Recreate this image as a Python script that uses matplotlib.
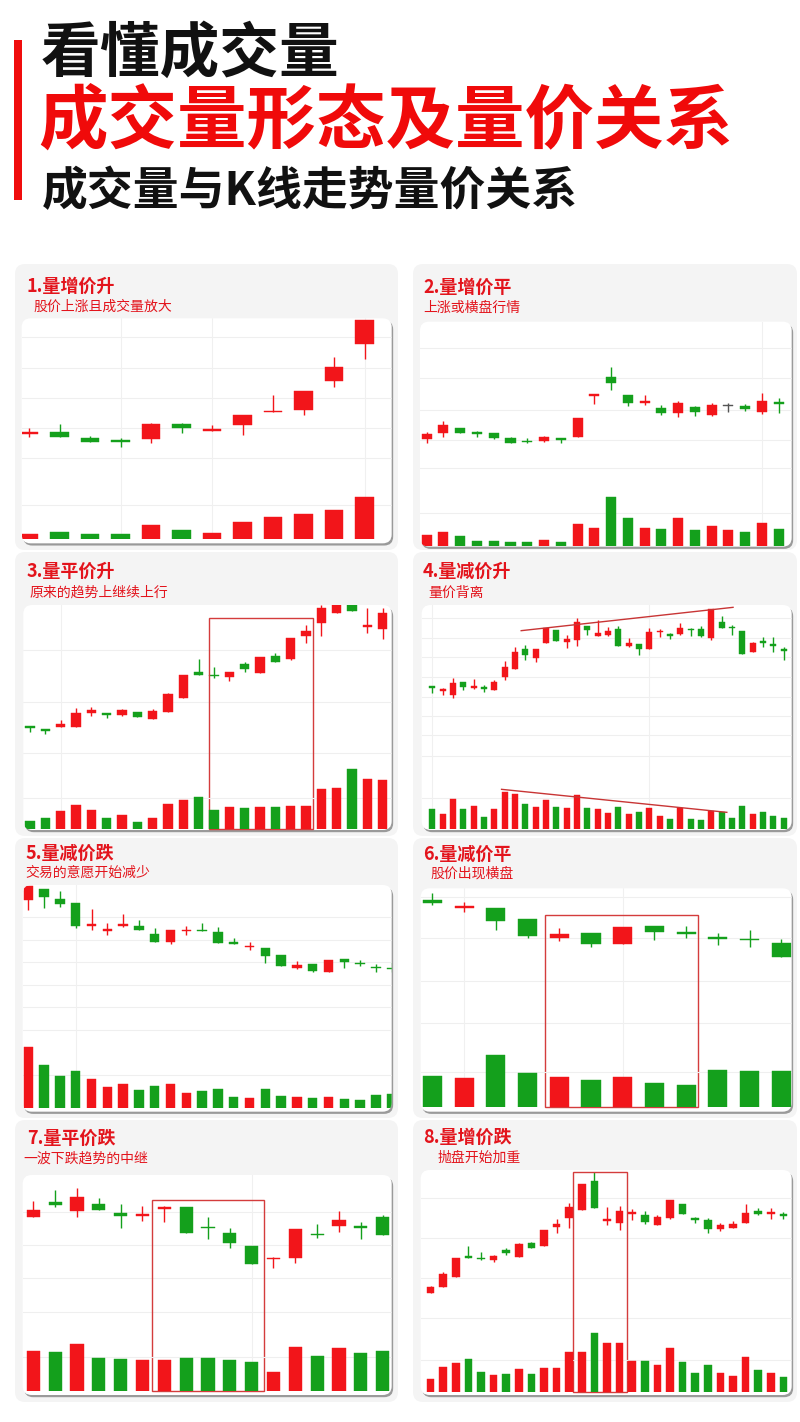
import matplotlib
matplotlib.use("Agg")
import matplotlib.pyplot as plt
from matplotlib.patches import FancyBboxPatch, Rectangle

plt.rcParams["font.family"] = ["Noto Sans CJK SC", "DejaVu Sans"]

# ---------------- texts ----------------
header_line1 = "看懂成交量"
header_line2 = "成交量形态及量价关系"
header_line3 = "成交量与K线走势量价关系"

panel_titles = ["1.量增价升", "2.量增价平", "3.量平价升", "4.量减价升",
                "5.量减价跌", "6.量减价平", "7.量平价跌", "8.量增价跌"]
panel_subtitles = ["股价上涨且成交量放大", "上涨或横盘行情", "原来的趋势上继续上行", "量价背离",
                   "交易的意愿开始减少", "股价出现横盘", "一波下跌趋势的中继", "抛盘开始加重"]

# ---------------- data (r = up/red, g = down/green, k = neutral) ----------------
p1_color = "rgggrgrrrrrr"
p1_open = [478, 483, 467, 459, 464, 509, 487, 506, 543, 550, 638, 747]
p1_close = [484, 470, 454, 453, 508, 495, 494, 535, 548, 608, 679, 821]
p1_high = [495, 508, 473, 465, 510, 512, 505, 535, 595, 608, 709, 821]
p1_low = [468, 470, 454, 438, 452, 480, 487, 475, 543, 535, 620, 702]
p1_volume = [16, 23, 16, 16, 43, 28, 18, 51, 66, 76, 88, 128]
p1_vol_color = "rgggrgrrrrrr"

p2_color = "rrgggggrgrrggrgrgrkgrg"
p2_open = [462, 480, 495, 483, 480, 465, 457, 457, 466, 468, 593, 650, 595, 572, 556, 542, 558, 535, 562, 563, 543, 573]
p2_close = [478, 505, 482, 478, 465, 452, 453, 469, 459, 525, 598, 630, 572, 575, 542, 572, 545, 565, 563, 553, 578, 568]
p2_high = [485, 518, 495, 488, 480, 470, 465, 473, 466, 525, 598, 678, 595, 595, 565, 578, 562, 572, 572, 568, 602, 585]
p2_low = [452, 470, 480, 470, 463, 450, 450, 455, 450, 468, 568, 610, 562, 565, 535, 530, 532, 532, 545, 548, 538, 540]
p2_volume = [32, 42, 30, 14, 14, 12, 10, 17, 12, 64, 52, 145, 84, 52, 49, 82, 47, 60, 46, 40, 67, 50]
p2_vol_color = "rrgggggrgrrggrgrgrrgrg"

p3_color = "ggrrrgrgrrrggrgrgrrrrgrr"
p3_open = [471, 463, 470, 468, 510, 512, 505, 515, 492, 513, 555, 634, 625, 620, 657, 630, 682, 674, 743, 780, 810, 837, 770, 762]
p3_close = [465, 458, 478, 512, 519, 505, 520, 499, 517, 568, 625, 624, 622, 635, 644, 680, 665, 735, 757, 825, 837, 818, 772, 810]
p3_high = [471, 463, 490, 527, 530, 512, 522, 515, 523, 572, 625, 673, 648, 635, 664, 680, 690, 735, 775, 835, 840, 840, 825, 825]
p3_low = [455, 447, 470, 468, 503, 495, 503, 499, 492, 513, 555, 624, 615, 608, 633, 630, 665, 670, 720, 743, 810, 818, 750, 732]
p3_volume = [26, 33, 56, 73, 58, 35, 43, 23, 33, 75, 88, 98, 58, 66, 65, 67, 66, 70, 70, 120, 123, 181, 151, 149]
p3_vol_color = "ggrrrgrgrrrggrgrgrrrrgrr"

p4_color = "grrgrgrrrgrrgrrgrrgrgrrgrggrgggrggg"
p4_open = [593, 578, 565, 603, 585, 589, 580, 620, 642, 703, 675, 720, 760, 723, 730, 772, 742, 745, 762, 712,
           719, 702, 753, 747, 748, 762, 764, 735, 785, 768, 757, 695, 727, 715, 702]
p4_close = [587, 580, 600, 590, 593, 584, 603, 650, 695, 685, 702, 765, 728, 733, 783, 760, 750, 757, 713, 722,
            702, 754, 755, 743, 765, 760, 743, 822, 765, 765, 687, 720, 720, 713, 697]
p4_high = [593, 587, 615, 603, 613, 595, 610, 668, 710, 715, 702, 765, 760, 745, 795, 772, 790, 768, 772, 735,
           719, 767, 763, 750, 782, 765, 772, 822, 802, 775, 757, 723, 738, 738, 710]
p4_low = [570, 565, 555, 580, 583, 575, 580, 610, 642, 670, 663, 720, 728, 705, 713, 745, 742, 742, 713, 710,
          685, 702, 738, 732, 745, 742, 738, 730, 765, 745, 687, 695, 710, 695, 670]
p4_volume = [60, 43, 88, 58, 69, 36, 58, 111, 105, 73, 66, 87, 64, 61, 101, 63, 60, 48, 66, 44,
             49, 62, 37, 30, 62, 30, 26, 53, 51, 33, 68, 44, 50, 39, 32]
p4_vol_color = "grrgrgrrrgrrgrrgrrgrgrrgrggrgggrggg"
p4_price_trend_x = [8.6, 29.1]
p4_price_trend_y = [758, 828]
p4_vol_trend_x = [6.7, 28.5]
p4_vol_trend_y = [118, 49]

p5_color = "rgggrrrggrrgggrggrgrgggg"
p5_open = [805, 838, 807, 797, 728, 713, 728, 728, 702, 680, 712, 715, 709, 679, 664, 660, 640, 602, 613, 590, 627, 617, 605, 600]
p5_close = [848, 813, 793, 728, 732, 715, 734, 714, 680, 715, 714, 711, 675, 674, 666, 637, 607, 610, 592, 624, 618, 612, 601, 597]
p5_high = [848, 838, 832, 797, 778, 735, 763, 745, 722, 715, 727, 737, 725, 690, 678, 660, 640, 622, 613, 624, 627, 624, 613, 620]
p5_low = [775, 780, 783, 720, 715, 700, 725, 714, 680, 672, 700, 711, 675, 674, 655, 617, 607, 598, 588, 590, 600, 606, 590, 588]
p5_volume = [183, 128, 96, 111, 85, 63, 70, 52, 65, 70, 45, 50, 57, 32, 29, 56, 35, 32, 28, 32, 25, 23, 39, 40]
p5_vol_color = "rgggrrrggrrgggrggrgrgggg"

p6_color = "grggrgrggggg"
p6_open = [805, 782, 780, 748, 690, 707, 673, 727, 710, 694, 686, 677]
p6_close = [797, 785, 742, 698, 702, 673, 723, 710, 702, 689, 684, 634]
p6_high = [825, 800, 780, 748, 722, 707, 723, 727, 728, 707, 715, 687]
p6_low = [790, 770, 715, 690, 682, 663, 673, 685, 690, 670, 665, 634]
p6_volume = [92, 85, 155, 100, 90, 80, 90, 70, 66, 110, 108, 106]
p6_vol_color = "grggrgrggggg"

p7_color = "rgrggrrggggrrgrgg"
p7_open = [693, 738, 713, 734, 707, 698, 718, 723, 663, 645, 607, 568, 572, 644, 668, 668, 695]
p7_close = [714, 729, 755, 714, 698, 703, 723, 645, 660, 616, 553, 570, 657, 640, 686, 660, 640]
p7_high = [742, 775, 780, 750, 732, 728, 728, 723, 693, 662, 607, 575, 657, 672, 713, 678, 700]
p7_low = [693, 725, 693, 714, 660, 683, 678, 645, 628, 600, 553, 540, 555, 630, 648, 628, 640]
p7_volume = [121, 116, 140, 100, 97, 93, 93, 98, 98, 93, 88, 58, 133, 106, 128, 113, 121]
p7_vol_color = "rgrggrrggggrrgrgg"

p8_color = "rrrggrgrgrrrrgrrrgrrgggrrrgrg"
p8_open = [467, 483, 515, 578, 570, 565, 595, 575, 615, 607, 663, 690, 715, 802, 683, 677, 704, 700, 670, 690,
           732, 692, 684, 657, 662, 677, 713, 704, 703]
p8_close = [485, 523, 570, 570, 568, 577, 585, 613, 602, 655, 673, 725, 794, 722, 685, 713, 706, 680, 693, 744,
            703, 686, 657, 670, 672, 706, 702, 706, 696]
p8_high = [488, 528, 570, 608, 588, 580, 600, 617, 620, 655, 688, 735, 794, 830, 725, 728, 718, 713, 700, 744,
           732, 695, 692, 675, 682, 732, 720, 720, 708]
p8_low = [467, 483, 515, 570, 565, 558, 580, 575, 602, 607, 645, 662, 715, 722, 670, 655, 685, 673, 670, 688,
          703, 675, 645, 653, 660, 677, 700, 688, 687]
p8_volume = [37, 75, 87, 97, 60, 50, 53, 68, 53, 72, 72, 118, 120, 175, 147, 145, 92, 92, 79, 131,
             89, 57, 79, 56, 47, 103, 66, 57, 44]
p8_vol_color = "rrrggrgrgrrrrgrrrgrrgggrrrgrg"

# highlighted windows (candle index range) for panels 3, 6, 7, 8
p3_window = [11.67, 18.43]
p6_window = [3.55, 8.36]
p7_window = [5.44, 10.55]
p8_window = [11.26, 15.58]

# ---------------- layout (positions/styles only) ----------------
LAYOUT = [
    dict(origin=(10, 260), zx=(35, 1145), zy=(175, 850), c0=57, sp=91.5, sep=630, base=838,
         pgrid=[230, 325, 415, 505, 595], vgrid=[735], xgrid=[3, 6, 11], box_top=None,
         title=(27, 286), sub=(33, 307)),
    dict(origin=(410, 260), zx=(30, 1145), zy=(185, 860), c0=50, sp=50.3, sep=660, base=857,
         pgrid=[265, 355, 450, 540, 625], vgrid=[760], xgrid=[20], box_top=None,
         title=(423, 287), sub=(423, 308)),
    dict(origin=(10, 550), zx=(40, 1145), zy=(165, 840), c0=60, sp=46.0, sep=645, base=838,
         pgrid=[300, 455, 608], vgrid=[745], xgrid=[2], box_top=205,
         title=(27, 571), sub=(30, 593)),
    dict(origin=(410, 550), zx=(35, 1145), zy=(165, 840), c0=67, sp=31.0, sep=680, base=836,
         pgrid=[205, 265, 322, 380, 440, 497, 555, 617], vgrid=[745], xgrid=[0, 21], box_top=None,
         title=(423, 571), sub=(428, 593)),
    dict(origin=(10, 835), zx=(38, 1145), zy=(150, 830), c0=55, sp=47.4, sep=620, base=818,
         pgrid=[245, 315, 380, 450, 517, 585], vgrid=[720], xgrid=[3], box_top=None,
         title=(25, 853), sub=(25, 873)),
    dict(origin=(410, 835), zx=(32, 1145), zy=(160, 830), c0=67, sp=95.2, sep=603, base=815,
         pgrid=[185, 310, 437, 565], vgrid=[710], xgrid=[1, 6], box_top=240,
         title=(423, 854), sub=(430, 874)),
    dict(origin=(10, 1115), zx=(38, 1145), zy=(180, 840), c0=70, sp=65.5, sep=625, base=828,
         pgrid=[290, 390, 490, 590], vgrid=[725], xgrid=[10], box_top=255,
         title=(27, 1138), sub=(23, 1159)),
    dict(origin=(410, 1115), zx=(32, 1145), zy=(165, 840), c0=62, sp=37.8, sep=615, base=830,
         pgrid=[250, 370, 490, 610], vgrid=[735], xgrid=[], box_top=172,
         title=(423, 1137), sub=(438, 1158)),
]
GRAY_BOXES = [(15, 264, 383, 286), (413, 264, 384, 286),
              (15, 552, 383, 284), (413, 552, 384, 284),
              (15, 838, 383, 280), (413, 838, 384, 280),
              (15, 1120, 383, 282), (413, 1120, 384, 282)]

RED = "#f2151a"
GREEN = "#14a01c"
COL = {"r": RED, "g": GREEN, "k": "#555555"}
TITLE_RED = "#e3141c"

W, H = 800, 1422
fig = plt.figure(figsize=(8, 14.22), dpi=100)
fig.patch.set_facecolor("white")
bg = fig.add_axes([0, 0, 1, 1])
bg.set_xlim(0, W)
bg.set_ylim(H, 0)
bg.axis("off")


def px_axes(x0, y0, x1, y1):
    return fig.add_axes([x0 / W, 1 - y1 / H, (x1 - x0) / W, (y1 - y0) / H])


# header
bg.add_patch(Rectangle((14, 40), 8, 160, color="#f00d0d", lw=0))
bg.text(41, 55, header_line1, fontsize=43, fontweight="heavy", color="#111111", va="center", ha="left")
bg.text(38, 122, header_line2, fontsize=50, fontweight="heavy", color="#f00a0a", va="center", ha="left")
bg.text(42, 192, header_line3, fontsize=33, fontweight="heavy", color="#111111", va="center", ha="left")

for (x, y, w, h) in GRAY_BOXES:
    bg.add_patch(FancyBboxPatch((x, y), w, h, boxstyle="round,pad=0,rounding_size=10",
                                fc="#f4f4f4", ec="none", zorder=1))

DATA = [
    (p1_color, p1_open, p1_close, p1_high, p1_low, p1_volume, p1_vol_color, None),
    (p2_color, p2_open, p2_close, p2_high, p2_low, p2_volume, p2_vol_color, None),
    (p3_color, p3_open, p3_close, p3_high, p3_low, p3_volume, p3_vol_color, p3_window),
    (p4_color, p4_open, p4_close, p4_high, p4_low, p4_volume, p4_vol_color, None),
    (p5_color, p5_open, p5_close, p5_high, p5_low, p5_volume, p5_vol_color, None),
    (p6_color, p6_open, p6_close, p6_high, p6_low, p6_volume, p6_vol_color, p6_window),
    (p7_color, p7_open, p7_close, p7_high, p7_low, p7_volume, p7_vol_color, p7_window),
    (p8_color, p8_open, p8_close, p8_high, p8_low, p8_volume, p8_vol_color, p8_window),
]

for k, (L, D) in enumerate(zip(LAYOUT, DATA)):
    col, o, c, h, l, vol, vcol, window = D
    ox, oy = L["origin"]
    X0 = ox + L["zx"][0] / 3
    X1 = ox + L["zx"][1] / 3
    Y0 = oy + L["zy"][0] / 3
    Y1 = oy + L["zy"][1] / 3
    Ysep = oy + L["sep"] / 3
    Ybase = oy + L["base"] / 3

    bg.text(L["title"][0], L["title"][1], panel_titles[k], fontsize=13, fontweight="bold",
            color=TITLE_RED, va="center", ha="left", zorder=5)
    bg.text(L["sub"][0], L["sub"][1], panel_subtitles[k], fontsize=10,
            color=TITLE_RED, va="center", ha="left", zorder=5)

    bg.add_patch(FancyBboxPatch((X0 + 1.5, Y0 + 2.2), X1 - X0, Y1 - Y0,
                                boxstyle="round,pad=0,rounding_size=9", fc="#9a9a9a", ec="none", zorder=2))
    white = FancyBboxPatch((X0, Y0), X1 - X0, Y1 - Y0,
                           boxstyle="round,pad=0,rounding_size=9", fc="white", ec="none", zorder=3)
    bg.add_patch(white)

    xl = (-(L["c0"] - L["zx"][0]) / L["sp"], (L["zx"][1] - L["c0"]) / L["sp"])
    pax = px_axes(X0, Y0, X1, Ysep)
    vax = px_axes(X0, Ysep, X1, Ybase)
    for ax in (pax, vax):
        ax.set_xlim(*xl)
        ax.axis("off")
    pax.set_ylim(1000 - L["sep"], 1000 - L["zy"][0])
    vax.set_ylim(0, L["base"] - L["sep"])

    # faint grid
    for z in L["pgrid"]:
        pax.axhline(1000 - z, color="#efefef", lw=0.8, zorder=0)
    for z in L["vgrid"]:
        vax.axhline(L["base"] - z, color="#efefef", lw=0.8, zorder=0)
    for xi in L["xgrid"]:
        pax.axvline(xi, color="#f0f0f0", lw=0.8, zorder=0)
        vax.axvline(xi, color="#f0f0f0", lw=0.8, zorder=0)

    n = len(o)
    xs = list(range(n))
    colors = [COL[ch] for ch in col]
    pax.vlines(xs, l, h, colors=colors, lw=1.0, zorder=2)
    bottoms = [min(a, b) for a, b in zip(o, c)]
    heights = [max(abs(a - b), 4) for a, b in zip(o, c)]
    pax.bar(xs, heights, bottom=bottoms, width=0.6, color=colors, edgecolor=colors, lw=0.3, zorder=3)

    vcolors = [COL[ch] for ch in vcol]
    vax.bar(xs, vol, width=0.6, color=vcolors, edgecolor=vcolors, lw=0.3, zorder=3)

    if k == 3:
        pax.plot(p4_price_trend_x, p4_price_trend_y, color="#c83535", lw=1.0, zorder=4)
        vax.plot(p4_vol_trend_x, p4_vol_trend_y, color="#c83535", lw=1.0, zorder=4)

    for ax in (pax, vax):
        for art in list(ax.collections) + list(ax.patches) + list(ax.lines):
            art.set_clip_path(white)

    if window is not None:
        top_val = 1000 - L["box_top"]
        bot_val = 1000 - L["base"]
        pax.add_patch(Rectangle((window[0], bot_val), window[1] - window[0], top_val - bot_val,
                                fill=False, ec="#d43c3c", lw=1.0, clip_on=False, zorder=6))

fig.savefig("out.png", dpi=100, facecolor="white")
